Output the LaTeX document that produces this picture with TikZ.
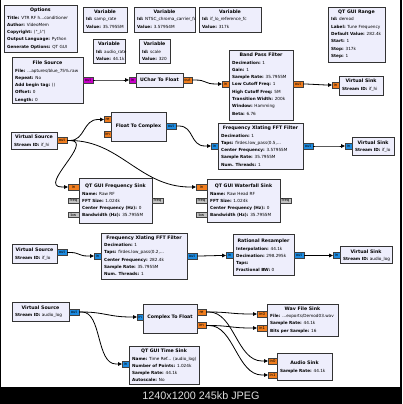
\documentclass[tikz,border=0pt]{standalone}
\usepackage{fontspec}
\setmainfont{DejaVu Sans}
\newfontfamily\capfont{Liberation Sans}
\usetikzlibrary{arrows.meta}

\definecolor{blockfill}{RGB}{238,238,252}
\definecolor{fltport}{RGB}{240,125,30}
\definecolor{cpxport}{RGB}{30,140,225}
\definecolor{byteport}{RGB}{200,0,200}
\definecolor{msgport}{RGB}{195,195,195}

\tikzset{
 blockbox/.style={draw=black!80, fill=blockfill, line width=0.7pt, inner sep=0, outer sep=0},
 titletext/.style={font=\fontsize{4.7}{5}\selectfont\bfseries, inner sep=0},
 bodytext/.style={font=\fontsize{4.2}{7.3}\selectfont, inner sep=0, align=left},
 portbox/.style={draw=black!75, line width=0.4pt, inner sep=0, outer sep=0, font=\fontsize{3.8}{4}\selectfont},
 conn/.style={line width=0.8pt, -{Triangle[length=4pt,width=3.6pt]}},
}

\newcommand\kv[2]{\textbf{#1:} #2}
\newcommand\topstrut{\rule{0pt}{3.4pt}}
% name x1 y1 x2 y2 ytitle title body
\newcommand\blk[8]{%
 \node[blockbox, anchor=north west, minimum width=#4pt-#2pt, minimum height=#5pt-#3pt] (#1) at (#2,#3) {};
 \node[titletext, anchor=base] (#1-t) at ({(#2+#4)/2},#6+1.7) {#7};
 \node[bodytext, anchor=north west] (#1-b) at (#2+3,#6+5.4) {\topstrut#8};
}
\newcommand\blkt[7]{%
 \node[blockbox, anchor=north west, minimum width=#4pt-#2pt, minimum height=#5pt-#3pt] (#1) at (#2,#3) {};
 \node[titletext, anchor=base] (#1-t) at ({(#2+#4)/2},#6+1.7) {#7};
}
% name x1 y1 x2 y2 colour label
\newcommand\prt[7]{%
 \node[portbox, fill=#6, anchor=north west, minimum width=#4pt-#2pt, minimum height=#5pt-#3pt] (#1) at (#2,#3) {#7};
}
\newcommand\cn[3]{\draw[conn] (#1.east) -- ++(3,0) .. controls +(#3,0) and +(-#3,0) .. ([xshift=-6pt]#2.west) -- (#2.west);}

\begin{document}
\begin{tikzpicture}[x=1pt,y=-1pt]
\useasboundingbox (0,0) rectangle (402,404);
\fill[black] (0,0) rectangle (402,404);
\fill[white] (1,0) rectangle (400,387);

% blocks
\blk{opt}{4}{5}{77}{52}{10}{Options}{\kv{Title}{VTR RF h...conditioner}\\\kv{Author}{VideoMem}\\\kv{Copyright}{(°\_ʖ°)}\\\kv{Output Language}{Python}\\\kv{Generate Options}{QT GUI}}
\blk{v1}{83}{7}{127}{32}{12}{Variable}{\kv{Id}{samp\_rate}\\\kv{Value}{35.7955M}}
\blk{v2}{134}{7}{195}{32}{12}{Variable}{\kv{Id}{NTSC\_chroma\_carrier\_fc}\\\kv{Value}{3.57954M}}
\blk{v3}{199}{7}{261}{32}{12}{Variable}{\kv{Id}{if\_lo\_reference\_fc}\\\kv{Value}{317k}}
\blk{rng}{328}{7}{385}{62}{12}{QT GUI Range}{\kv{Id}{demod}\\\kv{Label}{Tune Frequency}\\\kv{Default Value}{282.4k}\\\kv{Start}{1}\\\kv{Stop}{317k}\\\kv{Step}{1}}
\blk{v4}{93}{39}{125}{63}{44.3}{Variable}{\kv{Id}{audio\_rate}\\\kv{Value}{44.1k}}
\blk{v5}{139}{39}{170}{63}{44.3}{Variable}{\kv{Id}{scale}\\\kv{Value}{320}}
\blk{fs}{12}{57}{83}{103}{63}{File Source}{\kv{File}{...aptures/blue\_75\%.raw}\\\kv{Repeat}{No}\\\kv{Add begin tag}{()}\\\kv{Offset}{0}\\\kv{Length}{0}}
\blkt{uc}{136}{73}{183}{87}{80}{UChar To Float}
\blk{bp}{229}{50}{293}{120}{55}{Band Pass Filter}{\kv{Decimation}{1}\\\kv{Gain}{1}\\\kv{Sample Rate}{35.7955M}\\\kv{Low Cutoff Freq}{1}\\\kv{High Cutoff Freq}{5M}\\\kv{Transition Width}{200k}\\\kv{Window}{Hamming}\\\kv{Beta}{6.76}}
\blk{vk1}{339}{76}{383}{95}{81}{Virtual Sink}{\kv{Stream ID}{if\_hi}}
\blk{vr1}{11}{132}{57}{149}{137}{Virtual Source}{\kv{Stream ID}{if\_hi}}
\blkt{f2c}{111}{112}{166}{141}{126}{Float To Complex}
\blk{fsk}{79}{178}{152}{223}{186}{QT GUI Frequency Sink}{\kv{Name}{Raw RF}\\\kv{FFT Size}{1.024k}\\\kv{Center Frequency (Hz)}{0}\\\kv{Bandwidth (Hz)}{35.7955M}}
\blk{wf}{207}{179}{280}{222}{186}{QT GUI Waterfall Sink}{\kv{Name}{Raw Head RF}\\\kv{FFT Size}{1.024k}\\\kv{Center Frequency (Hz)}{0}\\\kv{Bandwidth (Hz)}{35.7955M}}
\blk{fx1}{218}{123}{303}{169}{128}{Frequency Xlating FFT Filter}{\kv{Decimation}{1}\\\kv{Taps}{firdes.low\_pass(0.5,...}\\\kv{Center Frequency}{3.57955M}\\\kv{Sample Rate}{35.7955M}\\\kv{Num. Threads}{1}}
\blk{vk2}{352}{137}{394}{155}{142.5}{Virtual Sink}{\kv{Stream ID}{if\_lo}}
\blk{vr2}{12}{244}{57}{263}{250}{Virtual Source}{\kv{Stream ID}{if\_lo}}
\blk{fx2}{101}{233}{187}{279}{237.5}{Frequency Xlating FFT Filter}{\kv{Decimation}{1}\\\kv{Taps}{firdes.low\_pass(0.2,...}\\\kv{Center Frequency}{282.4k}\\\kv{Sample Rate}{35.7955M}\\\kv{Num. Threads}{1}}
\blk{rr}{233}{234}{294}{275}{241}{Rational Resampler}{\kv{Interpolation}{44.1k}\\\kv{Decimation}{298.295k}\\\kv{Taps}{}\\\kv{Fractional BW}{0}}
\blk{vk3}{340}{246}{392}{263}{251.5}{Virtual Sink}{\kv{Stream ID}{audio\_log}}
\blk{vr3}{12}{302}{69}{321}{307.5}{Virtual Source}{\kv{Stream ID}{audio\_log}}
\blkt{c2f}{143}{304}{197}{333}{317}{Complex To Float}
\blk{wav}{267}{304}{338}{336}{308.5}{Wav File Sink}{\kv{File}{...exports/Demod03.wav}\\\kv{Sample Rate}{44.1k}\\\kv{Bits per Sample}{16}}
\blk{au}{277}{353}{332}{380}{363}{Audio Sink}{\kv{Sample Rate}{44.1k}}
\blk{ts}{129}{346}{199}{384}{351}{QT GUI Time Sink}{\kv{Name}{Time Ref... (audio\_log)}\\\kv{Number of Points}{1.024k}\\\kv{Sample Rate}{44.1k}\\\kv{Autoscale}{No}}

% ports
\prt{fs-o}{83}{77}{93}{83}{byteport}{out}
\prt{uc-i}{129}{77}{136}{83}{byteport}{in}
\prt{uc-o}{183}{77}{192}{83}{fltport}{out}
\prt{bp-i}{222}{81}{229}{87}{fltport}{in}
\prt{bp-o}{293}{81}{303}{87}{fltport}{out}
\prt{vk1-i}{332}{82}{339}{88}{fltport}{in}
\prt{vr1-o}{57}{137.5}{67}{143.5}{fltport}{out}
\prt{f2c-re}{104}{116.5}{111}{122.5}{fltport}{re}
\prt{f2c-im}{104}{131}{111}{137}{fltport}{im}
\prt{f2c-o}{166}{123}{176}{129}{cpxport}{out}
\prt{fsk-i}{68}{184}{79}{190}{fltport}{in}
\prt{fsk-f}{68}{198}{79}{203.5}{msgport}{freq}
\prt{fsk-bw}{68}{212}{79}{217.5}{msgport}{bw}
\prt{fsk-fo}{152}{198}{163}{203.5}{msgport}{freq}
\prt{wf-i}{196}{184}{207}{190}{fltport}{in}
\prt{wf-f}{196}{198}{207}{203.5}{msgport}{freq}
\prt{wf-bw}{196}{212}{207}{217.5}{msgport}{bw}
\prt{wf-fo}{280}{198}{291}{203.5}{msgport}{freq}
\prt{fx1-i}{211}{143}{218}{149}{cpxport}{in}
\prt{fx1-o}{303}{143}{313}{149}{cpxport}{out}
\prt{vk2-i}{345}{143}{352}{149}{cpxport}{in}
\prt{vr2-o}{57}{249.5}{67}{255.5}{cpxport}{out}
\prt{fx2-i}{94}{253}{101}{259}{cpxport}{in}
\prt{fx2-o}{187}{253}{197}{259}{cpxport}{out}
\prt{rr-i}{226}{252.5}{233}{258.5}{cpxport}{in}
\prt{rr-o}{294}{252.5}{304}{258.5}{cpxport}{out}
\prt{vk3-i}{333}{252.5}{340}{258.5}{cpxport}{in}
\prt{vr3-o}{69}{309}{79}{315}{cpxport}{out}
\prt{c2f-i}{137}{314}{143}{320}{cpxport}{in}
\prt{c2f-re}{197}{309}{206}{315}{fltport}{re}
\prt{c2f-im}{197}{322.5}{206}{328.5}{fltport}{im}
\prt{wav-0}{257}{311}{267}{317}{fltport}{in0}
\prt{wav-1}{257}{325}{267}{331}{fltport}{in1}
\prt{au-0}{268}{358}{277}{364}{fltport}{in0}
\prt{au-1}{268}{372}{277}{378}{fltport}{in1}
\prt{ts-i}{122}{361}{129}{367}{cpxport}{in}

% connections
\cn{fs-o}{uc-i}{10}
\cn{uc-o}{bp-i}{12}
\cn{bp-o}{vk1-i}{10}
\cn{vr1-o}{f2c-re}{15}
\cn{vr1-o}{fsk-i}{25}
\cn{vr1-o}{wf-i}{50}
\cn{f2c-o}{fx1-i}{15}
\cn{fx1-o}{vk2-i}{12}
\cn{vr2-o}{fx2-i}{10}
\cn{fx2-o}{rr-i}{10}
\cn{rr-o}{vk3-i}{10}
\cn{vr3-o}{c2f-i}{22}
\cn{vr3-o}{ts-i}{20}
\cn{c2f-re}{wav-0}{20}
\cn{c2f-im}{wav-1}{20}
\cn{c2f-re}{au-0}{25}
\cn{c2f-im}{au-1}{25}

\node[font=\capfont\fontsize{10.8}{12}\selectfont, text=black!13, anchor=base, inner sep=0] (cap) at (201,399.3) {1240x1200 245kb JPEG};
\end{tikzpicture}
\end{document}
